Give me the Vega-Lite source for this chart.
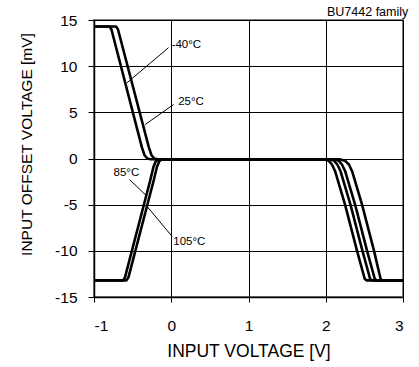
{
  "$schema": "https://vega.github.io/schema/vega-lite/v6.json",
  "autosize": {"type": "none"},
  "padding": {"left": 94, "top": 20, "right": 16, "bottom": 70},
  "width": 309,
  "height": 277,
  "background": "white",
  "title": {"text": "BU7442 family", "anchor": "end", "fontSize": 12.5, "fontWeight": "normal", "font": "Liberation Sans", "color": "#000", "offset": -5, "dx": 4},
  "config": {
    "font": "Liberation Sans",
    "view": {"stroke": "#808080", "strokeWidth": 2},
    "axis": {"labelFont": "Liberation Sans", "titleFont": "Liberation Sans", "labelColor": "#000", "titleColor": "#000", "domainColor": "#000", "tickColor": "#000", "gridColor": "#000", "gridWidth": 1, "gridOpacity": 1, "titleFontWeight": "normal", "labelFontSize": 15.5, "labelExpr": "'' + datum.value"}
  },
  "datasets": {
    "curves": [
      {"t": "-40", "x": -1, "y": 14.3}, {"t": "-40", "x": -0.8, "y": 14.3}, {"t": "-40", "x": -0.775, "y": 14.0}, {"t": "-40", "x": -0.38, "y": 1.2}, {"t": "-40", "x": -0.345, "y": 0.35}, {"t": "-40", "x": -0.31, "y": 0.0}, {"t": "-40", "x": -0.27, "y": -0.08}, {"t": "-40", "x": 1.0, "y": -0.1}, {"t": "-40", "x": 1.99, "y": -0.1}, {"t": "-40", "x": 2.04, "y": -0.25}, {"t": "-40", "x": 2.08, "y": -0.65}, {"t": "-40", "x": 2.12, "y": -1.35}, {"t": "-40", "x": 2.25, "y": -5}, {"t": "-40", "x": 2.405, "y": -10}, {"t": "-40", "x": 2.505, "y": -13.05}, {"t": "-40", "x": 2.53, "y": -13.2}, {"t": "-40", "x": 3, "y": -13.2},
      {"t": "25", "x": -1, "y": 14.3}, {"t": "25", "x": -0.715, "y": 14.3}, {"t": "25", "x": -0.69, "y": 14.0}, {"t": "25", "x": -0.29, "y": 1.2}, {"t": "25", "x": -0.255, "y": 0.35}, {"t": "25", "x": -0.22, "y": 0.0}, {"t": "25", "x": -0.18, "y": -0.08}, {"t": "25", "x": 1.0, "y": -0.1}, {"t": "25", "x": 2.06, "y": -0.1}, {"t": "25", "x": 2.11, "y": -0.25}, {"t": "25", "x": 2.15, "y": -0.65}, {"t": "25", "x": 2.19, "y": -1.35}, {"t": "25", "x": 2.32, "y": -5}, {"t": "25", "x": 2.475, "y": -10}, {"t": "25", "x": 2.575, "y": -13.05}, {"t": "25", "x": 2.6, "y": -13.2}, {"t": "25", "x": 3, "y": -13.2},
      {"t": "85", "x": -1, "y": -13.2}, {"t": "85", "x": -0.625, "y": -13.2}, {"t": "85", "x": -0.6, "y": -12.9}, {"t": "85", "x": -0.27, "y": -2.3}, {"t": "85", "x": -0.23, "y": -0.9}, {"t": "85", "x": -0.2, "y": -0.3}, {"t": "85", "x": -0.17, "y": -0.1}, {"t": "85", "x": 1.0, "y": -0.1}, {"t": "85", "x": 2.12, "y": -0.1}, {"t": "85", "x": 2.17, "y": -0.25}, {"t": "85", "x": 2.21, "y": -0.65}, {"t": "85", "x": 2.25, "y": -1.35}, {"t": "85", "x": 2.38, "y": -5}, {"t": "85", "x": 2.535, "y": -10}, {"t": "85", "x": 2.635, "y": -13.05}, {"t": "85", "x": 2.66, "y": -13.2}, {"t": "85", "x": 3, "y": -13.2},
      {"t": "105", "x": -1, "y": -13.2}, {"t": "105", "x": -0.58, "y": -13.2}, {"t": "105", "x": -0.555, "y": -12.9}, {"t": "105", "x": -0.225, "y": -2.3}, {"t": "105", "x": -0.185, "y": -0.9}, {"t": "105", "x": -0.155, "y": -0.3}, {"t": "105", "x": -0.125, "y": -0.1}, {"t": "105", "x": 1.0, "y": -0.1}, {"t": "105", "x": 2.19, "y": -0.1}, {"t": "105", "x": 2.25, "y": -0.25}, {"t": "105", "x": 2.3, "y": -0.65}, {"t": "105", "x": 2.34, "y": -1.35}, {"t": "105", "x": 2.47, "y": -5}, {"t": "105", "x": 2.625, "y": -10}, {"t": "105", "x": 2.71, "y": -13.05}, {"t": "105", "x": 2.735, "y": -13.2}, {"t": "105", "x": 3, "y": -13.2}
    ],
    "leaders": [
      {"x": -0.573, "y": 8.2, "x2": -0.035, "y2": 12.0},
      {"x": -0.337, "y": 3.68, "x2": 0.03, "y2": 5.85},
      {"x": -0.54, "y": -2.28, "x2": -0.315, "y2": -4.08},
      {"x": -0.315, "y": -5.17, "x2": 0.009, "y2": -8.42}
    ],
    "labels": [
      {"label": "-40°C", "x": 0.005, "y": 12.25},
      {"label": "25°C", "x": 0.09, "y": 6.07},
      {"label": "85°C", "x": -0.747, "y": -1.57},
      {"label": "105°C", "x": 0.026, "y": -9.0}
    ]
  },
  "layer": [
    {
      "data": {"name": "curves"},
      "mark": {"type": "line", "color": "#000", "strokeWidth": 2.6, "strokeJoin": "round"},
      "encoding": {
        "x": {"field": "x", "type": "quantitative", "scale": {"domain": [-1, 3], "nice": false, "zero": false},
              "axis": {"title": "INPUT VOLTAGE [V]", "values": [-1, 0, 1, 2, 3], "grid": true, "tickSize": 5, "labelPadding": 16, "titlePadding": 9, "titleFontSize": 17.5, "domainWidth": 1.5}},
        "y": {"field": "y", "type": "quantitative", "scale": {"domain": [-15, 15], "nice": false, "zero": false},
              "axis": {"title": "INPUT OFFSET VOLTAGE [mV]", "values": [-15, -10, -5, 0, 5, 10, 15], "grid": true, "tickSize": 6, "labelPadding": 11, "titlePadding": 20, "titleFontSize": 15.5, "titleY": 124, "domainWidth": 1.5}},
        "detail": {"field": "t", "type": "nominal"}
      }
    },
    {
      "data": {"name": "leaders"},
      "mark": {"type": "rule", "color": "#000", "strokeWidth": 1},
      "encoding": {
        "x": {"field": "x", "type": "quantitative"},
        "y": {"field": "y", "type": "quantitative"},
        "x2": {"field": "x2"},
        "y2": {"field": "y2"}
      }
    },
    {
      "data": {"name": "labels"},
      "mark": {"type": "text", "align": "left", "baseline": "middle", "fontSize": 11.5, "font": "Liberation Sans", "color": "#000"},
      "encoding": {
        "x": {"field": "x", "type": "quantitative"},
        "y": {"field": "y", "type": "quantitative"},
        "text": {"field": "label"}
      }
    }
  ]
}
